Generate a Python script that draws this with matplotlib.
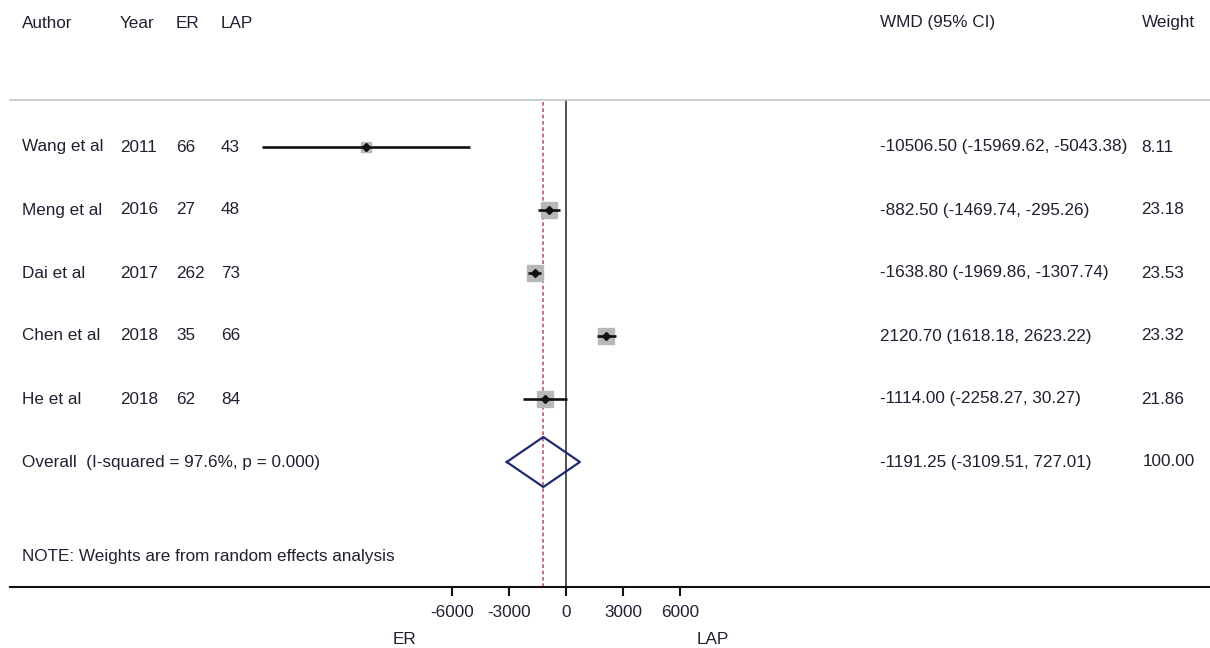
import numpy as np
import matplotlib
matplotlib.use('Agg')
import matplotlib.pyplot as plt
import matplotlib.transforms as mtransforms

plt.rcParams['font.family'] = ['Liberation Sans', 'DejaVu Sans']

authors = ['Wang et al', 'Meng et al', 'Dai et al', 'Chen et al', 'He et al']
years = ['2011', '2016', '2017', '2018', '2018']
n_er = ['66', '27', '262', '35', '62']
n_lap = ['43', '48', '73', '66', '84']
wmd = [-10506.50, -882.50, -1638.80, 2120.70, -1114.00]
ci_low = [-15969.62, -1469.74, -1969.86, 1618.18, -2258.27]
ci_high = [-5043.38, -295.26, -1307.74, 2623.22, 30.27]
weights = [8.11, 23.18, 23.53, 23.32, 21.86]

overall = -1191.25
overall_low = -3109.51
overall_high = 727.01
overall_label = 'Overall  (I-squared = 97.6%, p = 0.000)'
note = 'NOTE: Weights are from random effects analysis'
xticks = [-6000, -3000, 0, 3000, 6000]

W, H = 1210, 648
txt_col = '#1f2030'
fs = 12.3

fig = plt.figure(figsize=(W / 100, H / 100), dpi=100)
# axes spans from the top rule to the bottom rule, pixel-like y units inside
ax = fig.add_axes([10 / W, (H - 587) / H, 1200 / W, (587 - 100) / H])
scale = 19.05 / 1000  # px per unit
ax.set_xlim((10 - 566) / scale, (1210 - 566) / scale)
ax.set_ylim(587, 100)

for s in ['left', 'right']:
    ax.spines[s].set_visible(False)
ax.spines['top'].set_color('#b9c4cc')
ax.spines['top'].set_linewidth(1.1)
ax.spines['bottom'].set_color('#111111')
ax.spines['bottom'].set_linewidth(1.5)
ax.set_yticks([])
ax.set_xticks(xticks)
ax.set_xticklabels([str(t) for t in xticks], fontsize=fs, color=txt_col)
ax.tick_params(axis='x', direction='out', length=6.5, width=1.5, color='#111111', pad=6.5)

rows = 147 + 63 * np.arange(len(authors))
y_overall = 147 + 63 * len(authors)
y_note = 557

ax.axvline(0, color='#222222', lw=1.1, zorder=1)
ax.axvline(overall, color='#b85868', lw=1.2, ls=(0, (2.2, 1.6)), zorder=1)

for i in range(len(authors)):
    y = rows[i]
    ax.plot([ci_low[i], ci_high[i]], [y, y], color='#111111', lw=1.9, zorder=3,
            solid_capstyle='butt')
    ms = 11.2 * np.sqrt(weights[i] / 23.5)
    ax.plot(wmd[i], y, marker='s', ms=ms, color='#b8b8b8', mec='#b8b8b8', zorder=2)
    ax.plot(wmd[i], y, marker='D', ms=4.4, color='#111111', zorder=4)

dh = 25
ax.plot([overall_low, overall, overall_high, overall, overall_low],
        [y_overall, y_overall - dh, y_overall, y_overall + dh, y_overall],
        color='#1f2a70', lw=1.6, zorder=4)

tr = mtransforms.blended_transform_factory(fig.transFigure, ax.transData)


def put(px, y, s, ha='left'):
    ax.text(px / W, y, s, transform=tr, ha=ha, va='center', fontsize=fs,
            color=txt_col, clip_on=False)


y_head = 23
put(22, y_head, 'Author')
put(120, y_head, 'Year')
put(176, y_head, 'ER')
put(221, y_head, 'LAP')
put(880, y_head, 'WMD (95% CI)')
put(1142, y_head, 'Weight')

for i in range(len(authors)):
    y = rows[i]
    put(22, y, authors[i])
    put(120, y, years[i])
    put(176, y, n_er[i])
    put(221, y, n_lap[i])
    put(880, y, f'{wmd[i]:.2f} ({ci_low[i]:.2f}, {ci_high[i]:.2f})')
    put(1141, y, f'{weights[i]:.2f}')

put(22, y_overall, overall_label)
put(880, y_overall, f'{overall:.2f} ({overall_low:.2f}, {overall_high:.2f})')
put(1143, y_overall, '100.00')
put(22, y_note, note)

put(405, 639, 'ER', ha='center')
put(713, 639, 'LAP', ha='center')

fig.savefig('out.png', dpi=100, facecolor='white')
